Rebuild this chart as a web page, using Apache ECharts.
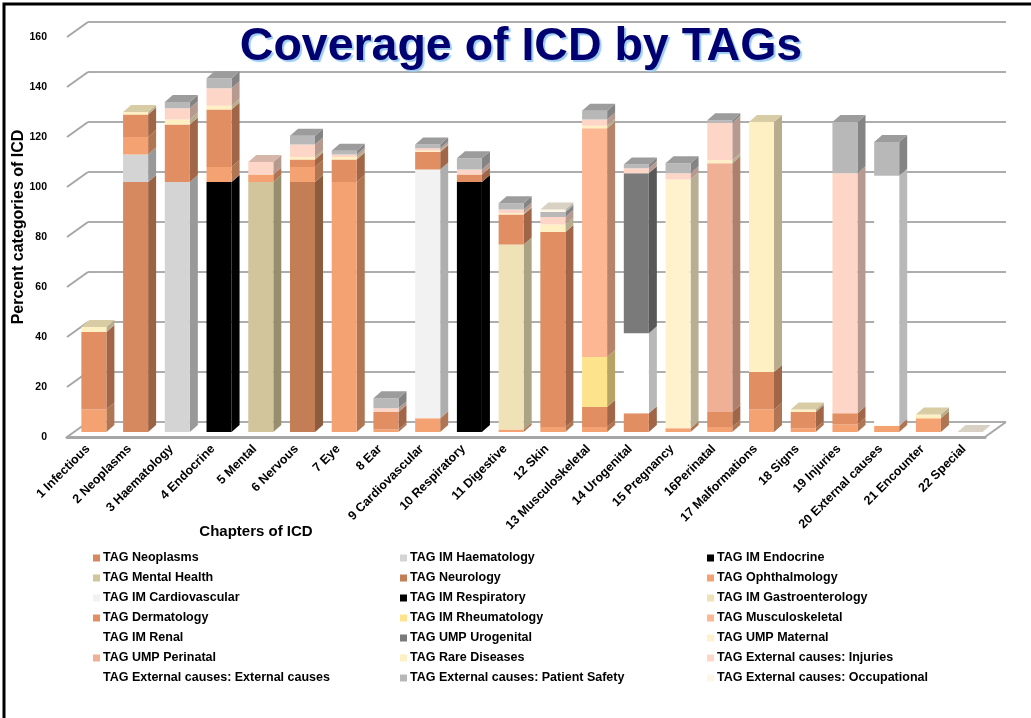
<!DOCTYPE html>
<html lang="en">
  <head>
    <meta charset="UTF-8" />
    <title>Coverage of ICD by TAGs</title>
    <style>
      html,
      body {
        margin: 0;
        padding: 0;
        background: #fff;
      }
      #chart {
        width: 1031px;
        height: 718px;
      }
    </style>
  </head>
  <body>
    <div id="chart"></div>
    <script src="https://cdn.jsdelivr.net/npm/echarts@6/dist/echarts.min.js"></script>
    <script>
      // chapters of ICD (x categories)
      const chapters = [
        "1 Infectious", "2 Neoplasms", "3 Haematology", "4 Endocrine", "5 Mental",
        "6 Nervous", "7 Eye", "8 Ear", "9 Cardiovascular", "10 Respiratory",
        "11 Digestive", "12 Skin", "13 Musculoskeletal", "14 Urogenital", "15 Pregnancy",
        "16Perinatal", "17 Malformations", "18 Signs", "19 Injuries", "20 External causes",
        "21 Encounter", "22 Special",
      ];
      const yTicks = [0, 20, 40, 60, 80, 100, 120, 140, 160];

      // one array per TAG, value per chapter (stack order = legend order)
      const neoplasms        = [0, 100, 0, 0, 0, 0, 0, 0, 0, 0, 0, 0, 0, 0, 0, 0, 0, 0, 0, 0, 0, 0];
      const imHaematology    = [0, 11, 100, 0, 0, 0, 0, 0, 0, 0, 0, 0, 0, 0, 0, 0, 0, 0, 0, 0, 0, 0];
      const imEndocrine      = [0, 0, 0, 100, 0, 0, 0, 0, 0, 0, 0, 0, 0, 0, 0, 0, 0, 0, 0, 0, 0, 0];
      const mentalHealth     = [0, 0, 0, 0, 100, 0, 0, 0, 0, 0, 0, 0, 0, 0, 0, 0, 0, 0, 0, 0, 0, 0];
      const neurology        = [0, 0, 0, 0, 0, 100, 0, 0, 0, 0, 0, 0, 0, 0, 0, 0, 0, 0, 0, 0, 0, 0];
      const ophthalmology    = [9, 7, 0, 6, 3, 6, 100, 1, 5.5, 0, 1, 2, 2, 0, 1.5, 2, 9, 1.5, 3, 2.5, 5.5, 0];
      const imCardiovascular = [0, 0, 0, 0, 0, 0, 0, 0, 99.5, 0, 0, 0, 0, 0, 0, 0, 0, 0, 0, 0, 0, 0];
      const imRespiratory    = [0, 0, 0, 0, 0, 0, 0, 0, 0, 100, 0, 0, 0, 0, 0, 0, 0, 0, 0, 0, 0, 0];
      const imGastro         = [0, 0, 0, 0, 0, 0, 0, 0, 0, 0, 74, 0, 0, 0, 0, 0, 0, 0, 0, 0, 0, 0];
      const dermatology      = [31, 9, 23, 23, 0, 3, 9, 7, 7, 3, 12, 78, 8, 7.5, 0, 6, 15, 6.5, 4.5, 0, 0, 0];
      const imRheumatology   = [0, 0, 0, 0, 0, 0, 0, 0, 0, 0, 0, 0, 20, 0, 0, 0, 0, 0, 0, 0, 0, 0];
      const musculoskeletal  = [0, 0, 0, 0, 0, 0, 0, 0, 0, 0, 0, 0, 91.5, 0, 0, 0, 0, 0, 0, 0, 0, 0];
      const imRenal          = [0, 0, 0, 0, 0, 0, 0, 0, 0, 0, 0, 0, 0, 32, 0, 0, 0, 0, 0, 0, 0, 0];
      const umpUrogenital    = [0, 0, 0, 0, 0, 0, 0, 0, 0, 0, 0, 0, 0, 64, 0, 0, 0, 0, 0, 0, 0, 0];
      const umpMaternal      = [0, 0, 0, 0, 0, 0, 0, 0, 0, 0, 0, 0, 0, 0, 99.5, 0, 0, 0, 0, 0, 0, 0];
      const umpPerinatal     = [0, 0, 0, 0, 0, 0, 0, 0, 0, 0, 0, 0, 0, 0, 0, 99.5, 0, 0, 0, 0, 0, 0];
      const rareDiseases     = [2, 1, 2, 1.5, 0, 1, 1, 0, 0.5, 0, 0.5, 3, 1, 0, 0, 1.2, 100, 1, 0, 0, 1.5, 0];
      const injuries         = [0, 0, 4.5, 7, 5, 5, 1, 1.5, 1, 2, 1.5, 3, 2.5, 2, 2.5, 15, 0, 0, 96, 0, 0, 0];
      const externalCauses   = [0, 0, 0, 0, 0, 0, 0, 0, 0, 0, 0, 0, 0, 0, 0, 0, 0, 0, 0, 100, 0, 0];
      const patientSafety    = [0, 0, 2.5, 4, 0, 3.5, 1.5, 4, 1.5, 4.5, 2.5, 2, 3.5, 1.5, 4, 1, 0, 0, 20.5, 13.5, 0, 0];
      const occupational     = [0, 0, 0, 0, 0, 0, 0, 0, 0, 0, 0, 1, 0, 0, 0, 0, 0, 0, 0, 0, 0, 0];

      const tagNames = [
        "TAG Neoplasms", "TAG IM Haematology", "TAG IM Endocrine",
        "TAG Mental Health", "TAG Neurology", "TAG Ophthalmology",
        "TAG IM Cardiovascular", "TAG IM Respiratory", "TAG IM Gastroenterology",
        "TAG Dermatology", "TAG IM Rheumatology", "TAG Musculoskeletal",
        "TAG IM Renal", "TAG UMP Urogenital", "TAG UMP Maternal",
        "TAG UMP Perinatal", "TAG Rare Diseases", "TAG External causes: Injuries",
        "TAG External causes: External causes", "TAG External causes: Patient Safety", "TAG External causes: Occupational",
      ];
      const tagValues = [
        neoplasms, imHaematology, imEndocrine, mentalHealth, neurology, ophthalmology,
        imCardiovascular, imRespiratory, imGastro, dermatology, imRheumatology, musculoskeletal,
        imRenal, umpUrogenital, umpMaternal, umpPerinatal, rareDiseases, injuries,
        externalCauses, patientSafety, occupational,
      ];
      const tagColors = [
        "#D6895E", "#D4D4D4", "#000000", "#D2C59C", "#C47E56", "#F4A272",
        "#F2F2F2", "#000000", "#EEE2B6", "#E08E62", "#FDE38C", "#FDB793",
        "#FFFFFF", "#7A7A7A", "#FFF2CC", "#F0B096", "#FEF0C2", "#FDD6C8",
        "#FFFFFF", "#B8B8B8", "#FEF6E6",
      ];

      // 3D look (pixels)
      const FRONT = { left: 67, right: 46, top: 37, bottom: 281 };
      const DEPTH = [21, 15];
      const BAR_SHIFT = [6, -5];
      const BAR_DEPTH = [8, -7];
      const FONT = "Liberation Sans";

      function shade(hex, f) {
        const n = parseInt(hex.slice(1), 16);
        const r = Math.round(((n >> 16) & 255) * f);
        const g = Math.round(((n >> 8) & 255) * f);
        const b = Math.round((n & 255) * f);
        return "rgb(" + r + "," + g + "," + b + ")";
      }

      // stack the segments: [chapter, base, top, isTopSegment]
      const topTag = chapters.map(() => -1);
      tagValues.forEach((vals, s) => vals.forEach((v, i) => { if (v > 0) topTag[i] = s; }));
      const base = chapters.map(() => 0);
      const segments = tagValues.map((vals, s) => {
        const out = [];
        vals.forEach((v, i) => {
          if (v > 0) {
            out.push([i, base[i], base[i] + v, topTag[i] === s ? 1 : 0]);
            base[i] += v;
          } else if (topTag[i] === -1 && s === tagValues.length - 1) {
            out.push([i, 0, 0, 1]); // empty chapter: flat lid only
          }
        });
        return out;
      });

      function makeRender(color) {
        const side = shade(color, 0.72);
        const top = shade(color, 0.85);
        return function (params, api) {
          const i = api.value(0);
          const pb = api.coord([i, api.value(1)]);
          const pt = api.coord([i, api.value(2)]);
          const band = api.size([1, 0])[0];
          const w = band * 0.6;
          const x0 = pb[0] + BAR_SHIFT[0] - w / 2;
          const x1 = x0 + w;
          const yb = pb[1] + BAR_SHIFT[1];
          const yt = pt[1] + BAR_SHIFT[1];
          const dx = BAR_DEPTH[0], dy = BAR_DEPTH[1];
          const children = [];
          if (yb - yt > 0) {
            children.push({
              type: "polygon",
              shape: { points: [[x1, yb], [x1 + dx, yb + dy], [x1 + dx, yt + dy], [x1, yt]] },
              style: { fill: side },
            });
            children.push({
              type: "rect",
              shape: { x: x0, y: yt, width: w, height: yb - yt },
              style: { fill: color },
            });
          }
          if (api.value(3) === 1) {
            children.push({
              type: "polygon",
              shape: { points: [[x0, yt], [x1, yt], [x1 + dx, yt + dy], [x0 + dx, yt + dy]] },
              style: { fill: top },
            });
          }
          return { type: "group", children: children };
        };
      }

      function renderWall(params, api) {
        const v = api.value(1);
        const band = api.size([1, 0])[0];
        const p = api.coord([0, v]);
        const xl = p[0] - band / 2;
        const st = { stroke: "#A6A6A6", lineWidth: 2 };
        const lines = [{ type: "line", shape: { x1: xl, y1: p[1], x2: xl + DEPTH[0], y2: p[1] - DEPTH[1] }, style: st }];
        if (v === 0) {
          const xr = api.coord([chapters.length - 1, 0])[0] + band / 2;
          lines.push({ type: "line", shape: { x1: xr, y1: p[1], x2: xr + DEPTH[0], y2: p[1] - DEPTH[1] }, style: st });
        }
        return { type: "group", children: lines };
      }

      const series = tagNames.map((name, s) => ({
        name: name,
        type: "custom",
        xAxisIndex: 0,
        yAxisIndex: 0,
        clip: false,
        itemStyle: { color: tagColors[s] },
        renderItem: makeRender(tagColors[s]),
        data: segments[s],
        z: 3,
      }));
      series.push({
        name: "wall",
        type: "custom",
        xAxisIndex: 0,
        yAxisIndex: 0,
        clip: false,
        renderItem: renderWall,
        data: yTicks.map((v) => [0, v]),
        z: 1,
      });

      const legendCols = [0, 1, 2].map((c) => ({
        orient: "vertical",
        left: [88, 395, 702][c],
        top: 546,
        icon: "rect",
        itemWidth: 7,
        itemHeight: 7,
        itemGap: 6,
        selectedMode: false,
        textStyle: { fontFamily: FONT, fontSize: 12.5, fontWeight: "bold", color: "#000", lineHeight: 14, padding: [0, 0, 0, -2] },
        data: tagNames.filter((n, k) => k % 3 === c),
      }));

      const chart = echarts.init(document.getElementById("chart"));
      const option = {
        animation: false,
        backgroundColor: "#fff",
        color: tagColors,
        textStyle: { fontFamily: FONT },
        legend: legendCols,
        grid: [
          { left: FRONT.left, right: FRONT.right, top: FRONT.top, bottom: FRONT.bottom, containLabel: false, outerBoundsMode: "none" },
          {
            left: FRONT.left + DEPTH[0],
            right: FRONT.right - DEPTH[0],
            top: FRONT.top - DEPTH[1],
            bottom: FRONT.bottom + DEPTH[1],
            containLabel: false,
            outerBoundsMode: "none",
          },
        ],
        xAxis: [
          {
            type: "category",
            gridIndex: 0,
            data: chapters,
            axisLine: { lineStyle: { color: "#A6A6A6", width: 3 } },
            axisTick: { show: false },
            axisLabel: {
              interval: 0,
              rotate: 45,
              margin: 10,
              hideOverlap: false,
              color: "#000",
              fontFamily: FONT,
              fontSize: 12.5,
              fontWeight: "bold",
            },
            splitLine: { show: false },
          },
          { type: "category", gridIndex: 1, data: chapters, show: false },
        ],
        yAxis: [
          {
            type: "value",
            gridIndex: 0,
            min: 0,
            max: 160,
            interval: 20,
            axisLine: { show: false },
            axisTick: { show: false },
            splitLine: { show: false },
            axisLabel: { margin: 20, color: "#000", fontFamily: FONT, fontSize: 10.5, fontWeight: "bold" },
          },
          {
            type: "value",
            gridIndex: 1,
            min: 0,
            max: 160,
            interval: 20,
            axisLine: { show: false },
            axisTick: { show: false },
            axisLabel: { show: false },
            splitLine: { lineStyle: { color: "#ADADAD", width: 2 } },
          },
        ],
        graphic: [
          {
            type: "rect",
            shape: { x: 4, y: 4, width: 1200, height: 900 },
            style: { fill: null, stroke: "#000", lineWidth: 3 },
            z: 10,
          },
          {
            type: "text",
            x: 521,
            y: 47,
            style: {
              text: "Coverage of ICD by TAGs",
              textAlign: "center",
              textVerticalAlign: "middle",
              fontFamily: FONT,
              fontSize: 46.5,
              fontWeight: "bold",
              fill: "#000070",
              textShadowColor: "#9CCBEF",
              textShadowOffsetX: 2,
              textShadowOffsetY: 2,
              textShadowBlur: 1,
            },
            z: 10,
          },
          {
            type: "text",
            x: 19,
            y: 227,
            rotation: Math.PI / 2,
            style: {
              text: "Percent categories of ICD",
              textAlign: "center",
              textVerticalAlign: "middle",
              fontFamily: FONT,
              fontSize: 16,
              fontWeight: "bold",
              fill: "#000",
            },
          },
          {
            type: "text",
            x: 256,
            y: 532,
            style: {
              text: "Chapters of ICD",
              textAlign: "center",
              textVerticalAlign: "middle",
              fontFamily: FONT,
              fontSize: 15,
              fontWeight: "bold",
              fill: "#000",
            },
          },
        ],
        series: series,
      };
      chart.setOption(option);
    </script>
  </body>
</html>
